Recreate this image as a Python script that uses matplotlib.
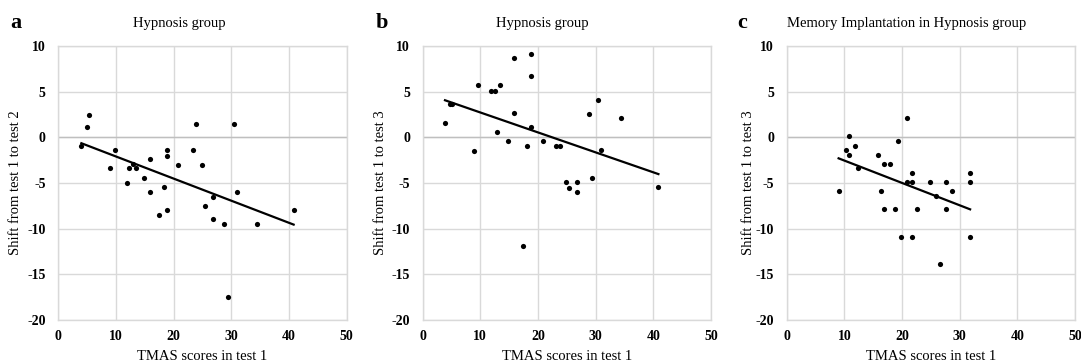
import numpy as np
import matplotlib
matplotlib.use("Agg")
import matplotlib.pyplot as plt

plt.rcParams['font.family'] = ['Liberation Serif', 'DejaVu Serif']
plt.rcParams['axes.unicode_minus'] = False

# ---------------- data ----------------
x_a = [4.0, 4.9, 5.3, 8.9, 9.8, 11.9, 12.3, 12.9, 13.4, 14.8, 15.9, 15.9, 17.4, 18.3, 18.8,
       18.8, 18.8, 20.8, 23.3, 23.8, 24.9, 25.4, 26.8, 26.8, 28.8, 29.4, 30.4, 30.9, 34.4, 40.8]
y_a = [-1.0, 1.1, 2.5, -3.4, -1.4, -5.0, -3.4, -2.9, -3.4, -4.4, -2.4, -6.0, -8.5, -5.4, -1.4,
       -2.0, -8.0, -3.0, -1.4, 1.5, -3.0, -7.5, -6.5, -8.9, -9.5, -17.5, 1.5, -6.0, -9.5, -8.0]

x_b = [3.9, 4.7, 5.2, 8.9, 9.7, 11.8, 12.5, 12.9, 13.4, 14.8, 15.9, 15.9, 17.4, 18.2, 18.8,
       18.8, 18.8, 20.9, 23.2, 23.8, 24.8, 25.4, 26.7, 26.7, 28.8, 29.4, 30.4, 30.9, 34.5, 40.9]
y_b = [1.6, 3.7, 3.7, -1.5, 5.7, 5.1, 5.1, 0.6, 5.7, -0.4, 8.7, 2.7, -11.9, -0.9, 9.1,
       6.7, 1.1, -0.4, -0.9, -0.9, -4.9, -5.5, -4.9, -6.0, 2.6, -4.4, 4.1, -1.4, 2.1, -5.4]

x_c = [9.0, 10.3, 10.8, 10.8, 11.9, 12.4, 15.8, 16.4, 16.9, 16.9, 17.9, 18.8, 19.3, 19.8, 20.8,
       20.9, 21.8, 21.8, 21.8, 22.6, 24.8, 25.8, 26.6, 27.7, 27.7, 28.7, 31.8, 31.8, 31.8]
y_c = [-5.9, -1.4, 0.1, -1.9, -0.9, -3.4, -1.9, -5.9, -2.9, -7.9, -2.9, -7.9, -0.4, -10.9, -4.9,
       2.1, -10.9, -4.9, -3.9, -7.9, -4.9, -6.4, -13.9, -4.9, -7.9, -5.9, -3.9, -4.9, -10.9]

panel_letters = ["a", "b", "c"]
titles = ["Hypnosis group", "Hypnosis group", "Memory Implantation in Hypnosis group"]
ylabels = ["Shift from test 1 to test 2", "Shift from test 1 to test 3", "Shift from test 1 to test 3"]
xlabel = "TMAS scores in test 1"
x_ticks = [0, 10, 20, 30, 40, 50]
y_ticks = [-20, -15, -10, -5, 0, 5, 10]

# ---------------- layout ----------------
W, H = 1081, 364
fig = plt.figure(figsize=(W / 100, H / 100), dpi=100)

ax_left_px = [58.3, 422.5, 786.7]
ax_w_px = 288.4
ax_top_px, ax_bot_px = 46.0, 320.0
ylab_x_px = [16, 381, 749]
letter_x_px = [10, 376, 737]
title_cx_px = [179, 542, 907]

grid_col = "#d9d9d9"
zero_col = "#bfbfbf"

data = [(x_a, y_a), (x_b, y_b), (x_c, y_c)]

for i, (xs, ys) in enumerate(data):
    ax = fig.add_axes([ax_left_px[i] / W, 1 - ax_bot_px / H, ax_w_px / W,
                       (ax_bot_px - ax_top_px) / H])
    ax.set_xlim(0, 50)
    ax.set_ylim(-20, 10)
    ax.set_xticks(x_ticks)
    ax.set_yticks(y_ticks)
    ax.grid(True, color=grid_col, linewidth=1.0)
    ax.set_axisbelow(True)
    for s in ax.spines.values():
        s.set_color(grid_col)
        s.set_linewidth(1.0)
    ax.axhline(0, color=zero_col, linewidth=1.0, zorder=1)
    ax.tick_params(axis='x', length=0, labelsize=10, pad=7)
    ax.tick_params(axis='y', length=0, labelsize=10, pad=9)
    for lab in ax.get_xticklabels() + ax.get_yticklabels():
        lab.set_fontweight('bold')

    ax.scatter(xs, ys, s=14, color="black", zorder=3, linewidths=0)

    xarr = np.array(xs)
    slope, intercept = np.polyfit(xarr, np.array(ys), 1)
    xl = np.array([xarr.min(), xarr.max()])
    ax.plot(xl, slope * xl + intercept, color="black", linewidth=1.6, zorder=4)

    ax.set_xlabel(xlabel, fontsize=10.5)
    ax.xaxis.set_label_coords(0.5, -(356 - ax_bot_px) / (ax_bot_px - ax_top_px))
    ax.xaxis.label.set_va('center')
    ax.set_ylabel(ylabels[i], fontsize=10.5)
    ax.yaxis.set_label_coords((ylab_x_px[i] - ax_left_px[i]) / ax_w_px, 0.5)
    ax.yaxis.label.set_va('center')

    fig.text(letter_x_px[i] / W, 1 - 28 / H, panel_letters[i], fontsize=16,
             fontweight='bold', ha='left', va='baseline')
    fig.text(title_cx_px[i] / W, 1 - 27 / H, titles[i], fontsize=10.5,
             ha='center', va='baseline')

fig.savefig("out.png", dpi=100, facecolor="white")
